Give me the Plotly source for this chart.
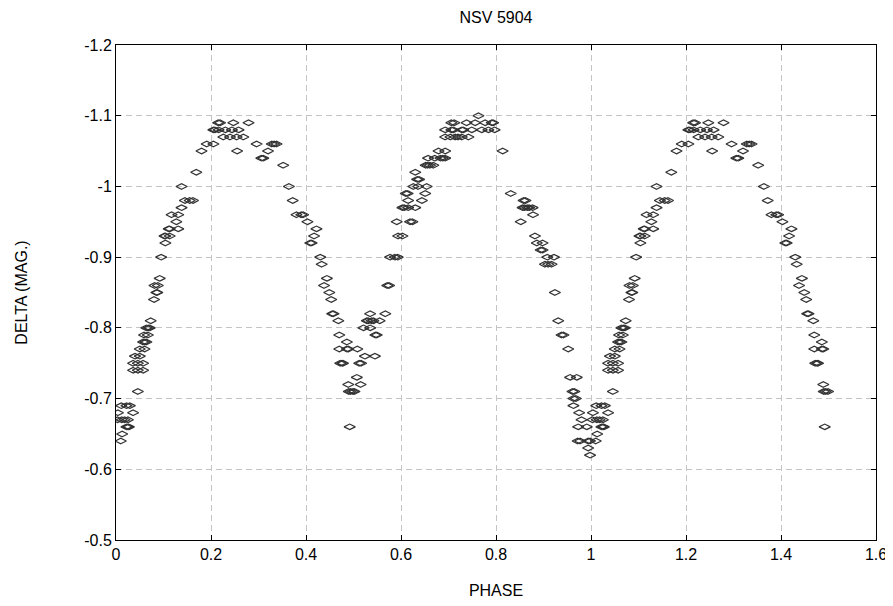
import plotly.graph_objects as go

# Folded light curve of NSV 5904 (phase 0..1); points with phase < 0.5 are repeated at phase+1
phase = [
    0.011, 0.022, 0.029, 0.004, 0.036, 0.003, 0.012, 0.018, 0.025, 0.022, 0.027, 0.025,
    0.013, 0.010, 0.046, 0.036, 0.046, 0.057, 0.036, 0.046, 0.057, 0.040, 0.050, 0.050,
    0.060, 0.057, 0.064, 0.061, 0.059, 0.067, 0.064, 0.071, 0.068, 0.073, 0.080, 0.087,
    0.085, 0.081, 0.088, 0.092, 0.095, 0.104, 0.104, 0.102, 0.113, 0.113, 0.111, 0.131,
    0.127, 0.117, 0.131, 0.138, 0.145, 0.155, 0.162, 0.138, 0.169, 0.180,
    0.215, 0.219, 0.247, 0.279, 0.205, 0.208, 0.230, 0.244, 0.258, 0.216,
    0.226, 0.240, 0.254, 0.268, 0.191, 0.205, 0.296, 0.328, 0.338, 0.333,
    0.255, 0.320, 0.306, 0.310, 0.352, 0.364, 0.372, 0.380, 0.390, 0.394,
    0.403, 0.422, 0.417, 0.412, 0.409, 0.430, 0.433, 0.444, 0.438, 0.449, 0.453,
    0.458, 0.455, 0.535, 0.567, 0.468, 0.528, 0.531, 0.538, 0.542, 0.555,
    0.521, 0.535, 0.470, 0.549, 0.546, 0.486, 0.470, 0.486, 0.489, 0.508,
    0.524, 0.545, 0.472, 0.476, 0.478, 0.512, 0.516, 0.507, 0.489, 0.515,
    0.490, 0.494, 0.499, 0.502, 0.492, 0.577, 0.587, 0.571, 0.575, 0.594, 0.591,
    0.593, 0.603, 0.619, 0.624, 0.603, 0.607, 0.615, 0.630, 0.615, 0.644,
    0.610, 0.614, 0.651, 0.626, 0.636, 0.654, 0.634, 0.638, 0.630,
    0.652, 0.656, 0.661, 0.668, 0.657, 0.671, 0.683, 0.688, 0.693, 0.679, 0.693,
    0.693, 0.704, 0.714, 0.728, 0.742, 0.720, 0.693, 0.706, 0.710, 0.728, 0.731,
    0.749, 0.770, 0.784, 0.706, 0.712, 0.738, 0.756, 0.777, 0.791, 0.763,
    0.794, 0.797, 0.814, 0.831, 0.858, 0.862, 0.856, 0.860, 0.866, 0.870, 0.877,
    0.878, 0.852, 0.882, 0.886, 0.898, 0.894, 0.898, 0.908, 0.922, 0.903, 0.917,
    0.910, 0.924, 0.931, 0.938, 0.942, 0.952, 0.956, 0.970, 0.961, 0.965,
    0.963, 0.968, 0.963, 0.975, 0.980, 0.973, 0.991, 0.977, 0.972, 0.998,
    0.994, 0.994, 0.998,
]
mag = [
    -0.69, -0.69, -0.69, -0.68, -0.68, -0.67, -0.67, -0.67, -0.67, -0.66, -0.66, -0.66,
    -0.65, -0.64, -0.71, -0.74, -0.74, -0.74, -0.75, -0.75, -0.75, -0.76, -0.76, -0.77,
    -0.77, -0.78, -0.78, -0.78, -0.79, -0.79, -0.80, -0.80, -0.80, -0.81, -0.84, -0.85,
    -0.85, -0.86, -0.86, -0.87, -0.90, -0.92, -0.93, -0.93, -0.93, -0.94, -0.94, -0.94,
    -0.95, -0.96, -0.96, -0.97, -0.98, -0.98, -0.98, -1.00, -1.02, -1.05,
    -1.09, -1.09, -1.09, -1.09, -1.08, -1.08, -1.08, -1.08, -1.08, -1.08,
    -1.07, -1.07, -1.07, -1.07, -1.06, -1.06, -1.06, -1.06, -1.06, -1.06,
    -1.05, -1.05, -1.04, -1.04, -1.03, -1.00, -0.98, -0.96, -0.96, -0.96,
    -0.95, -0.94, -0.93, -0.92, -0.92, -0.90, -0.89, -0.87, -0.86, -0.85, -0.84,
    -0.82, -0.82, -0.82, -0.82, -0.81, -0.81, -0.81, -0.81, -0.81, -0.81,
    -0.80, -0.80, -0.79, -0.79, -0.79, -0.78, -0.77, -0.77, -0.77, -0.77,
    -0.76, -0.76, -0.75, -0.75, -0.75, -0.75, -0.75, -0.73, -0.72, -0.72,
    -0.71, -0.71, -0.71, -0.71, -0.66, -0.90, -0.90, -0.86, -0.86, -0.93, -0.95,
    -0.90, -0.93, -0.95, -0.95, -0.97, -0.97, -0.97, -0.97, -0.98, -0.98,
    -0.99, -0.99, -0.99, -1.00, -1.00, -1.00, -1.01, -1.01, -1.02,
    -1.03, -1.03, -1.03, -1.03, -1.04, -1.04, -1.04, -1.04, -1.04, -1.05, -1.05,
    -1.07, -1.07, -1.07, -1.07, -1.07, -1.07, -1.08, -1.08, -1.08, -1.08, -1.08,
    -1.08, -1.08, -1.08, -1.09, -1.09, -1.09, -1.09, -1.09, -1.09, -1.10,
    -1.09, -1.08, -1.05, -0.99, -0.98, -0.98, -0.97, -0.97, -0.97, -0.97, -0.97,
    -0.96, -0.95, -0.93, -0.92, -0.92, -0.91, -0.91, -0.90, -0.90, -0.89, -0.89,
    -0.89, -0.85, -0.81, -0.79, -0.79, -0.77, -0.73, -0.73, -0.71, -0.71,
    -0.70, -0.70, -0.69, -0.68, -0.67, -0.66, -0.66, -0.64, -0.64, -0.64,
    -0.64, -0.63, -0.62,
]

x_tickvals = [0, 0.2, 0.4, 0.6, 0.8, 1.0, 1.2, 1.4, 1.6]
x_ticktext = ["0", "0.2", "0.4", "0.6", "0.8", "1", "1.2", "1.4", "1.6"]
y_tickvals = [-1.2, -1.1, -1.0, -0.9, -0.8, -0.7, -0.6, -0.5]
y_ticktext = ["-1.2", "-1.1", "-1", "-0.9", "-0.8", "-0.7", "-0.6", "-0.5"]

# repeat first half of the cycle after phase 1
xs = list(phase) + [p + 1 for p in phase if p < 0.5]
ys = list(mag) + [m for p, m in zip(phase, mag) if p < 0.5]

FONT = "Liberation Sans Narrow, Liberation Sans, Arial, sans-serif"

fig = go.Figure(
    go.Scatter(
        x=xs, y=ys, mode="markers",
        marker=dict(symbol="diamond-wide-open", size=8, color="#333333",
                    line=dict(width=1.2, color="#333333")),
        showlegend=False,
    )
)

axis_common = dict(
    showline=True, linecolor="black", linewidth=1, mirror="ticks",
    ticks="inside", ticklen=5, tickcolor="black",
    showgrid=True, gridcolor="#c4c4c4", gridwidth=1, griddash="6px,4px",
    zeroline=False, tickfont=dict(family=FONT, size=16, color="black"),
)

fig.update_layout(
    width=893, height=606,
    margin=dict(l=108, r=25, t=37, b=74),
    paper_bgcolor="white", plot_bgcolor="white",
    font=dict(family=FONT, size=16, color="black"),
    title=dict(text="NSV 5904", x=0.5, xref="paper", xanchor="center",
               y=1 - 9 / 606, yref="container", yanchor="middle",
               font=dict(family=FONT, size=16, color="black")),
    xaxis=dict(range=[0, 1.6], tickvals=x_tickvals, ticktext=x_ticktext,
               title=dict(text="PHASE", standoff=22,
                          font=dict(family=FONT, size=16, color="black")),
               **axis_common),
    yaxis=dict(range=[-0.5, -1.2], tickvals=y_tickvals, ticktext=y_ticktext,
               title=dict(text="DELTA (MAG.)", standoff=52,
                          font=dict(family=FONT, size=16, color="black")),
               **axis_common),
)

fig.write_html("out.html")
